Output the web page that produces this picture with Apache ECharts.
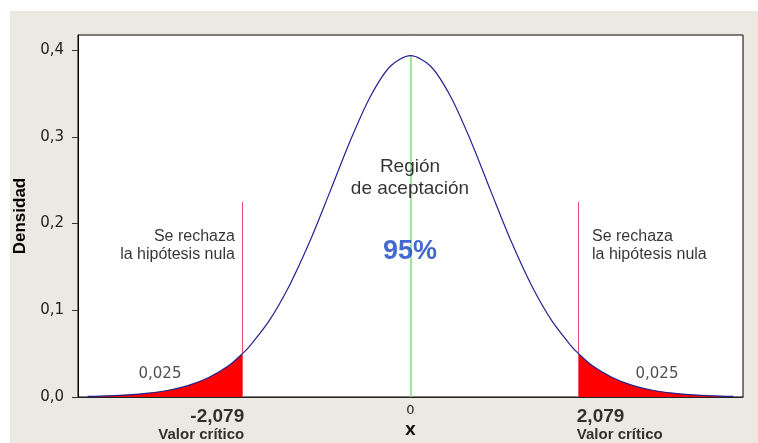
<!DOCTYPE html>
<html>
<head>
<meta charset="utf-8">
<script src="https://cdn.jsdelivr.net/npm/echarts@6/dist/echarts.min.js"></script>
<style>
html,body{margin:0;padding:0;background:#ffffff;}
#bg{position:absolute;left:10px;top:11px;width:748px;height:432px;background:#ECE9E2;}
#chart{position:absolute;left:0;top:0;width:758px;height:443px;}
</style>
</head>
<body>
<div id="bg"></div>
<div id="chart"></div>
<script>
// Density curve (t distribution, symmetric)
const xValues = [-4, -3.75, -3.5, -3.25, -3, -2.75, -2.5, -2.25, -2.079, -2, -1.75, -1.5, -1.25, -1, -0.75, -0.5, -0.25, 0,
                 0.25, 0.5, 0.75, 1, 1.25, 1.5, 1.75, 2, 2.079, 2.25, 2.5, 2.75, 3, 3.25, 3.5, 3.75, 4];
const densityValues = [0.0008, 0.0014, 0.0025, 0.0045, 0.0078, 0.0134, 0.0224, 0.0362, 0.0503, 0.0579, 0.0881, 0.1286, 0.1789, 0.2362, 0.2946, 0.3459, 0.3813, 0.3935,
                 0.3813, 0.3459, 0.2946, 0.2362, 0.1789, 0.1286, 0.0881, 0.0579, 0.0503, 0.0362, 0.0224, 0.0134, 0.0078, 0.0045, 0.0025, 0.0014, 0.0008];
const criticalValue = 2.079;
const alphaTail = '0,025';
const confidenceLabel = '95%';
const yTicks = [0, 0.1, 0.2, 0.3, 0.4];
const xTicks = [0];
const redLineTop = 0.225;
const peakDensity = 0.3935;

const curve = xValues.map((x, i) => [x, densityValues[i]]);
const leftTail = curve.filter(p => p[0] <= -criticalValue);
const rightTail = curve.filter(p => p[0] >= criticalValue);

const fmt = v => v.toFixed(1).replace('.', ',');
const critTxt = v => v.toFixed(3).replace('.', ',');

const chart = echarts.init(document.getElementById('chart'));
const sans = 'Liberation Sans, Arial, sans-serif';
const dv = 'DejaVu Sans, sans-serif';

function textPoint(x, y, text, label) {
  return { value: [x, y], label: Object.assign({ show: true, formatter: text, position: [0, 0], distance: 0,
    fontFamily: sans, color: '#000000', textBorderWidth: 0, textShadowBlur: 0 }, label) };
}

chart.setOption({
  backgroundColor: 'transparent',
  animation: false,
  grid: { left: 78, top: 35, right: 15, bottom: 46, show: true, backgroundColor: '#ffffff', borderColor: '#000', borderWidth: 1 },
  xAxis: {
    type: 'value', min: -4.12, max: 4.12,
    name: 'X', nameLocation: 'middle', nameGap: 27,
    nameTextStyle: { fontFamily: dv, fontSize: 14, fontWeight: 'bold', color: '#111' },
    axisLine: { show: true, onZero: false, lineStyle: { color: '#222', width: 1 } },
    axisTick: { show: false },
    splitLine: { show: false },
    axisLabel: { customValues: xTicks, formatter: v => String(v), fontFamily: dv, fontSize: 13, color: '#222', margin: 7 }
  },
  yAxis: {
    type: 'value', min: 0, max: 0.4173,
    name: 'Densidad', nameLocation: 'middle', nameGap: 49, nameRotate: 90,
    nameTextStyle: { fontFamily: sans, fontSize: 17, fontWeight: 'bold', color: '#000' },
    axisLine: { show: true, onZero: false, lineStyle: { color: '#000' } },
    axisTick: { show: true, customValues: yTicks, length: 6, lineStyle: { color: '#333' } },
    splitLine: { show: false },
    axisLabel: { customValues: yTicks, formatter: v => fmt(v), fontFamily: dv, fontSize: 15, color: '#222', margin: 14 }
  },
  series: [
    { type: 'line', data: leftTail, smooth: 0.3, symbol: 'none', lineStyle: { width: 0 }, areaStyle: { color: '#ff0000', opacity: 1 }, z: 2 },
    { type: 'line', data: rightTail, smooth: 0.3, symbol: 'none', lineStyle: { width: 0 }, areaStyle: { color: '#ff0000', opacity: 1 }, z: 2 },
    {
      type: 'line', data: curve, smooth: 0.3, symbol: 'none', z: 5,
      lineStyle: { color: '#23238f', width: 1.2 },
      markLine: {
        symbol: 'none', silent: true, label: { show: false },
        data: [
          [{ coord: [-criticalValue, 0], lineStyle: { color: '#f0506a', width: 1, type: 'solid' } }, { coord: [-criticalValue, redLineTop] }],
          [{ coord: [criticalValue, 0], lineStyle: { color: '#f0506a', width: 1, type: 'solid' } }, { coord: [criticalValue, redLineTop] }],
          [{ coord: [0, 0], lineStyle: { color: '#86e086', width: 1.6, type: 'solid' } }, { coord: [0, peakDensity] }]
        ]
      }
    },
    {
      type: 'scatter', symbolSize: 1, itemStyle: { color: 'rgba(255,255,255,0)' }, clip: false, silent: true, z: 6,
      data: [
        textPoint(0, 0.2526, 'Región\nde aceptación', { fontSize: 19, lineHeight: 22, align: 'center', verticalAlign: 'middle' }),
        textPoint(0, 0.1672, confidenceLabel, { fontSize: 27, fontWeight: 'bold', color: '#1642c4', align: 'center', verticalAlign: 'middle' }),
        textPoint(-2.17, 0.1742, 'Se rechaza\nla hipótesis nula', { fontSize: 16, lineHeight: 18, align: 'right', verticalAlign: 'middle' }),
        textPoint(2.255, 0.1742, 'Se rechaza\nla hipótesis nula', { fontSize: 16, lineHeight: 18, align: 'left', verticalAlign: 'middle' }),
        textPoint(-3.098, 0.0254, alphaTail, { fontFamily: dv, fontSize: 15, color: '#222', align: 'center', verticalAlign: 'middle' }),
        textPoint(3.06, 0.0254, alphaTail, { fontFamily: dv, fontSize: 15, color: '#222', align: 'center', verticalAlign: 'middle' }),
        textPoint(-criticalValue, 0, '{a|' + critTxt(-criticalValue) + '}\n{b|Valor crítico}', {
          align: 'right', verticalAlign: 'top', offset: [2, 11],
          rich: { a: { fontFamily: sans, fontSize: 19, fontWeight: 'bold', color: '#000', lineHeight: 19, align: 'right' },
                  b: { fontFamily: sans, fontSize: 15, fontWeight: 'bold', color: '#000', lineHeight: 17, align: 'right' } }
        }),
        textPoint(criticalValue, 0, '{a|' + critTxt(criticalValue) + '}\n{b|Valor crítico}', {
          align: 'left', verticalAlign: 'top', offset: [-1, 11],
          rich: { a: { fontFamily: sans, fontSize: 19, fontWeight: 'bold', color: '#000', lineHeight: 19 },
                  b: { fontFamily: sans, fontSize: 15, fontWeight: 'bold', color: '#000', lineHeight: 17 } }
        })
      ]
    }
  ]
});
</script>
</body>
</html>
